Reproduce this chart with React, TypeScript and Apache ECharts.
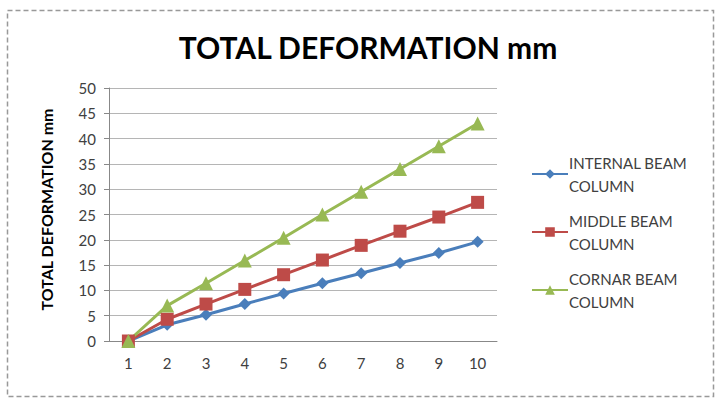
import React, { useEffect, useRef } from "react";
import * as echarts from "echarts";

const categories = ["1", "2", "3", "4", "5", "6", "7", "8", "9", "10"];
const internalBeam = [0, 3.2, 5.2, 7.3, 9.4, 11.4, 13.4, 15.4, 17.4, 19.6];
const middleBeam = [0, 4.3, 7.3, 10.2, 13.1, 16.0, 18.9, 21.7, 24.5, 27.4];
const cornarBeam = [0, 7.0, 11.4, 15.9, 20.4, 25.0, 29.5, 34.0, 38.5, 43.0];
const seriesNames = ["INTERNAL BEAM COLUMN", "MIDDLE BEAM COLUMN", "CORNAR BEAM COLUMN"];

const FONT = "Lato";

export default function App() {
  const ref = useRef<HTMLDivElement>(null);
  useEffect(() => {
    if (!ref.current) return;
    const chart = echarts.init(ref.current, undefined, { renderer: "svg" });
    const mk = (name: string, data: number[], color: string, symbol: string, size: number) => ({
      name,
      type: "line",
      data,
      color,
      symbol,
      symbolSize: size,
      lineStyle: { width: 3, color },
      itemStyle: { color },
    });
    chart.setOption({
      animation: false,
      backgroundColor: "#ffffff",
      title: {
        text: "TOTAL DEFORMATION mm",
        left: 363,
        textAlign: "center",
        top: 27,
        textStyle: { fontFamily: FONT, fontSize: 30, fontWeight: "bold", color: "#000" },
      },
      graphic: [
        {
          type: "rect",
          shape: { x: 7.5, y: 10.5, width: 706, height: 386 },
          style: { fill: "none", stroke: "#999", lineWidth: 1.5, lineDash: [5, 3] },
          silent: true,
        },
      ],
      legend: {
        orient: "vertical",
        left: 526,
        top: 146,
        itemWidth: 36,
        itemHeight: 12,
        itemGap: 12,
        data: seriesNames,
        formatter: (n: string) => n.replace(" BEAM ", " BEAM\n"),
        textStyle: { fontFamily: FONT, fontSize: 15, color: "#404040", lineHeight: 23, padding: [0, 0, 0, -4] },
      },
      grid: { left: 109, right: 218, top: 88, bottom: 57, containLabel: false },
      xAxis: {
        type: "category",
        data: categories,
        boundaryGap: true,
        axisLine: { lineStyle: { color: "#888", width: 1 } },
        axisTick: { show: false },
        axisLabel: { fontFamily: FONT, fontSize: 15, color: "#404040", margin: 14 },
      },
      yAxis: {
        type: "value",
        min: 0,
        max: 50,
        interval: 5,
        name: "TOTAL DEFORMATION mm",
        nameLocation: "middle",
        nameGap: 55,
        nameTextStyle: { fontFamily: FONT, fontSize: 16, fontWeight: "bold", color: "#000", padding: [0, 0, 0, 10] },
        axisLine: { show: true, lineStyle: { color: "#888", width: 1 } },
        axisTick: { show: true, length: 5, lineStyle: { color: "#888" } },
        axisLabel: { fontFamily: FONT, fontSize: 15, color: "#404040", margin: 13 },
        splitLine: { lineStyle: { color: "#b5b5b5", width: 1 } },
      },
      series: [
        mk(seriesNames[0], internalBeam, "#4a7ebb", "diamond", 12),
        mk(seriesNames[1], middleBeam, "#be4b48", "rect", 13),
        mk(seriesNames[2], cornarBeam, "#98b954", "triangle", 14),
      ],
    });
    return () => chart.dispose();
  }, []);
  return (
    <div
      ref={ref}
      style={{ position: "absolute", left: 0, top: 0, width: 715, height: 398 }}
    />
  );
}
